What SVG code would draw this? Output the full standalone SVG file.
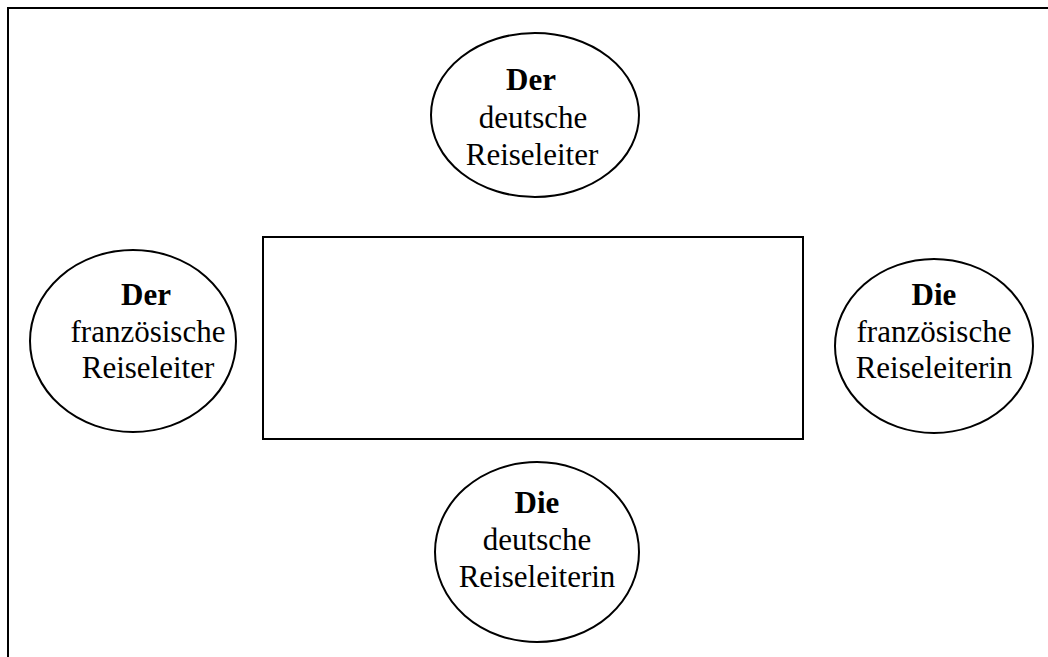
<svg xmlns="http://www.w3.org/2000/svg" width="1048" height="657" viewBox="0 0 1048 657">
<style>
.n{fill:#fff;stroke:#000;stroke-width:2}
.t{font-family:"Liberation Serif","Times New Roman",serif;font-size:31px;fill:#000;text-anchor:middle}
.b{font-weight:bold}
</style>
<rect width="1048" height="657" fill="#fff"/>
<g id="frame"><path d="M8 657 V8 H1048" fill="none" stroke="#000" stroke-width="2"/></g>
<g id="connectors"></g>
<g id="table"><rect class="n" x="263" y="237" width="540" height="202"/></g>
<g id="top"><ellipse class="n" cx="535" cy="115" rx="104" ry="82"/>
<text class="t"><tspan class="b" x="531" y="90">Der</tspan><tspan x="533" y="128">deutsche</tspan><tspan x="532" y="165">Reiseleiter</tspan></text></g>
<g id="left"><ellipse class="n" cx="133" cy="341" rx="103" ry="91"/>
<text class="t"><tspan class="b" x="146" y="305">Der</tspan><tspan x="148" y="342">französische</tspan><tspan x="148" y="378">Reiseleiter</tspan></text></g>
<g id="right"><ellipse class="n" cx="934" cy="346" rx="99" ry="87"/>
<text class="t"><tspan class="b" x="934" y="305">Die</tspan><tspan x="934" y="342">französische</tspan><tspan x="934" y="378">Reiseleiterin</tspan></text></g>
<g id="bottom"><ellipse class="n" cx="537" cy="552" rx="102" ry="90"/>
<text class="t"><tspan class="b" x="537" y="513">Die</tspan><tspan x="537" y="550">deutsche</tspan><tspan x="537" y="587">Reiseleiterin</tspan></text></g>
</svg>
